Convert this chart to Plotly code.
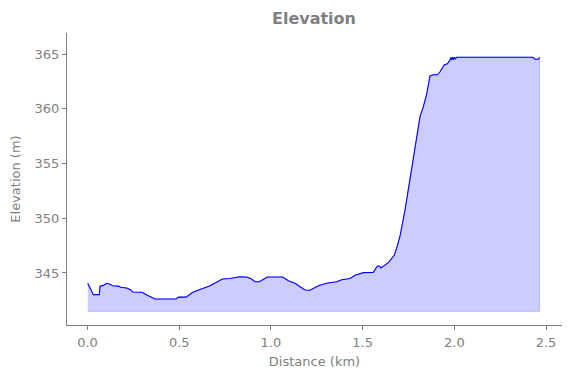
import plotly.graph_objects as go

distance_km = [0.001, 0.023, 0.032, 0.064, 0.068, 0.086, 0.105, 0.119, 0.137, 0.168, 0.181, 0.214,
               0.236, 0.246, 0.296, 0.326, 0.368, 0.483, 0.496, 0.537, 0.574, 0.668, 0.708, 0.732,
               0.735, 0.777, 0.828, 0.868, 0.895, 0.913, 0.937, 0.980, 1.064, 1.095, 1.131, 1.159,
               1.186, 1.213, 1.259, 1.304, 1.359, 1.386, 1.431, 1.459, 1.504, 1.558, 1.580, 1.591,
               1.600, 1.640, 1.673, 1.689, 1.704, 1.731, 1.758, 1.776, 1.795, 1.813, 1.831, 1.850,
               1.867, 1.885, 1.907, 1.922, 1.944, 1.962, 1.977, 1.982, 1.987, 1.991, 1.995, 2.000,
               2.005, 2.013, 2.427, 2.440, 2.458, 2.464]
elevation_m = [344.06, 343.2, 343.02, 343.02, 343.8, 343.87, 344.06, 344.0, 343.84, 343.8, 343.7, 343.63,
               343.45, 343.26, 343.24, 342.96, 342.63, 342.63, 342.8, 342.8, 343.24, 343.84, 344.18, 344.36,
               344.45, 344.5, 344.66, 344.63, 344.45, 344.2, 344.2, 344.63, 344.63, 344.3, 344.06, 343.75,
               343.45, 343.42, 343.84, 344.06, 344.2, 344.39, 344.5, 344.79, 345.03, 345.06, 345.64, 345.64,
               345.46, 345.94, 346.64, 347.47, 348.4, 350.75, 353.5, 355.6, 357.4, 359.3, 360.2, 361.4,
               363.0, 363.1, 363.1, 363.38, 364.0, 364.1, 364.47, 364.7, 364.45, 364.72, 364.5, 364.72,
               364.55, 364.7, 364.7, 364.52, 364.52, 364.7]
baseline_m = 341.5

x_ticks = [0, 0.5, 1.0, 1.5, 2.0, 2.5]
y_ticks = [345, 350, 355, 360, 365]

gray = "#7f7f7f"

poly_x = distance_km + distance_km[::-1]
poly_y = elevation_m + [baseline_m] * len(distance_km)

fig = go.Figure()
fig.add_trace(go.Scatter(x=poly_x, y=poly_y, mode="lines", fill="toself",
                         fillcolor="rgba(0,0,255,0.2)",
                         line=dict(color="rgba(0,0,255,0.22)", width=1),
                         hoverinfo="skip", showlegend=False))
fig.add_trace(go.Scatter(x=distance_km, y=elevation_m, mode="lines",
                         line=dict(color="#0000ff", width=1.1), showlegend=False))

axis_common = dict(showgrid=False, zeroline=False, showline=True, linecolor=gray, linewidth=1,
                   ticks="outside", ticklen=4, tickcolor=gray, tickwidth=1, automargin=False,
                   tickfont=dict(color=gray, size=13, family="DejaVu Sans"),
                   title_font=dict(color=gray, size=13, family="DejaVu Sans"))

# the page body has an 8px margin, so the figure is sized to fill the rest of the window
fig.update_layout(
    width=563, height=370,
    margin=dict(l=59, r=9, t=25, b=53),
    paper_bgcolor="white", plot_bgcolor="white",
    title=dict(text="<b>Elevation</b>", x=0.5435, xanchor="center", y=0.973, yanchor="middle",
               font=dict(color=gray, size=16, family="DejaVu Sans")),
    xaxis=dict(range=[-0.112, 2.587], tickvals=x_ticks, tickformat=".1f", ticklabelstandoff=1,
               title=dict(text="Distance (km)", standoff=8), **axis_common),
    yaxis=dict(range=[340.25, 366.92], tickvals=y_ticks,
               title=dict(text="Elevation (m)", standoff=11), **axis_common),
)

fig.write_html("out.html")
